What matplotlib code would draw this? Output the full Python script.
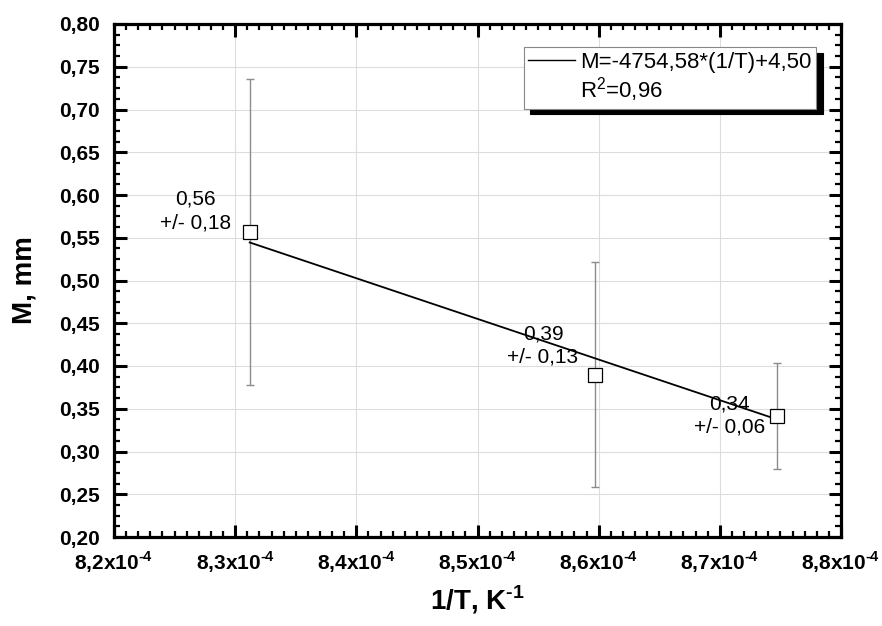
import numpy as np
import matplotlib
matplotlib.use("Agg")
import matplotlib.pyplot as plt
from matplotlib.ticker import MultipleLocator, FuncFormatter, AutoMinorLocator
from matplotlib.lines import Line2D

plt.rcParams['font.family'] = ['Liberation Sans', 'DejaVu Sans']
plt.rcParams['mathtext.fontset'] = 'custom'
plt.rcParams['mathtext.rm'] = 'Liberation Sans'
plt.rcParams['mathtext.bf'] = 'Liberation Sans:bold'

# data
inv_T = np.array([8.312e-4, 8.597e-4, 8.747e-4])
M = np.array([0.557, 0.390, 0.341])
M_err = np.array([0.179, 0.132, 0.062])
M_txt = ["0,56", "0,39", "0,34"]
err_txt = ["0,18", "0,13", "0,06"]
# label offsets (pixels) of the value texts from their points
lab_dx = [-54, -52, -47]
lab_dy = [21, 29, 1]

fit_slope = -4754.58
fit_icpt = 4.4965
r2 = 0.96

fig = plt.figure(figsize=(8.82, 6.26), dpi=100)
ax = fig.add_axes([114/882, 1-537/626, (841-114)/882, (537-24)/626])

ax.errorbar(inv_T, M, yerr=M_err, fmt='none', ecolor='#8c8c8c', elinewidth=1.0,
            capsize=3, capthick=1.0, zorder=3)
xf = np.array([inv_T[0], inv_T[-1]])
ax.plot(xf, fit_slope*xf + fit_icpt, color='black', lw=1.3, zorder=4)
ax.plot(inv_T, M, ls='none', marker='s', ms=9.5, mfc='white', mec='black', mew=0.9, zorder=5)

for i in range(len(inv_T)):
    ax.annotate(M_txt[i] + "\n+/- " + err_txt[i], (inv_T[i], M[i]),
                xytext=(lab_dx[i], lab_dy[i]), textcoords='offset pixels',
                ha='center', va='center', fontsize=15, linespacing=1.3, zorder=6)

ax.set_xlim(8.2e-4, 8.8e-4)
ax.set_ylim(0.20, 0.80)
ax.xaxis.set_major_locator(MultipleLocator(0.1e-4))
ax.xaxis.set_minor_locator(AutoMinorLocator(10))
ax.yaxis.set_major_locator(MultipleLocator(0.05))
ax.yaxis.set_minor_locator(AutoMinorLocator(4))

def xfmt(v, pos):
    return ("%.1f" % (v*1e4)).replace('.', ',') + "x10$^{\\mathbf{\u2010 4}}$"

ax.xaxis.set_major_formatter(FuncFormatter(xfmt))
ax.yaxis.set_major_formatter(FuncFormatter(lambda v, p: ("%.2f" % v).replace('.', ',')))

ax.grid(True, which='major', color='#dddddd', lw=0.8, zorder=0)
ax.set_axisbelow(True)
for s in ax.spines.values():
    s.set_linewidth(2.3)
ax.tick_params(which='both', direction='in', top=True, right=True)
ax.tick_params(which='major', length=9, width=2.2, labelsize=15)
ax.tick_params(axis='y', which='major', pad=10)
ax.tick_params(axis='x', which='major', pad=9)
ax.tick_params(which='minor', length=4, width=1.6)
for t in ax.get_xticklabels() + ax.get_yticklabels():
    t.set_fontweight('bold')

ax.set_xlabel("1/T, K$^{\\mathbf{\u2010 1}}$", fontsize=20, fontweight='bold', labelpad=6)
ax.set_ylabel("M, mm", fontsize=20, fontweight='bold', labelpad=16)

h1 = Line2D([], [], color='black', lw=1.0)
h2 = Line2D([], [], color='none')
lab1 = "M=%s*(1/T)+%s" % (("%.2f" % fit_slope).replace('.', ','), ("%.2f" % fit_icpt).replace('.', ','))
lab2 = "R$^{\\mathrm{2}}$=" + ("%.2f" % r2).replace('.', ',')
leg = ax.legend([h1, h2], [lab1, lab2], loc='upper right', bbox_to_anchor=(0.9656, 0.955),
                borderaxespad=0, fontsize=16, handlelength=2.1, handletextpad=0.25,
                labelspacing=0.12, borderpad=0.2, fancybox=False, framealpha=1,
                edgecolor='#888888',
                shadow={'color': 'black', 'alpha': 1, 'ox': 5, 'oy': -4})
leg.get_frame().set_linewidth(0.8)

fig.savefig("out.png", dpi=100)
